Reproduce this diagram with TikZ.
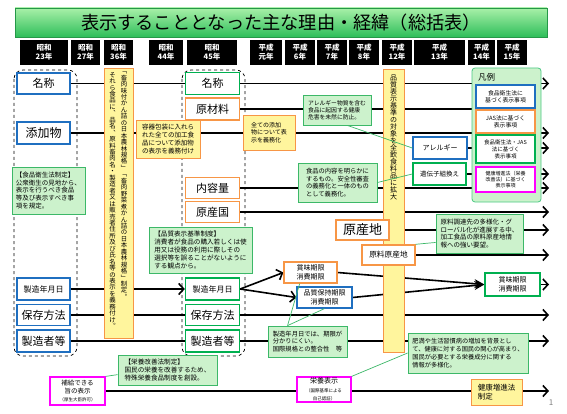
\documentclass[tikz,border=0pt]{standalone}
\usepackage{fontspec}
\setmainfont{Noto Sans CJK JP}
\usepackage{tikz}
\usetikzlibrary{positioning, calc, arrows.meta, backgrounds}

\definecolor{jblue}{HTML}{1F6FC0}
\definecolor{jorange}{HTML}{F79646}
\definecolor{jgreen}{HTML}{00B050}
\definecolor{jmagenta}{HTML}{FF00FF}
\definecolor{notefill}{HTML}{CCF2CC}
\definecolor{notedge}{HTML}{3CB868}
\definecolor{memofill}{HTML}{FFF59D}
\definecolor{titletop}{HTML}{A8F0A8}
\definecolor{titlebot}{HTML}{2EBE5A}
\newcommand\tinyjp{\fontsize{4.5}{5.5}\selectfont}
% stack the characters of #2 in one column, pitch #1
\newcommand\vcol[2]{\vbox{\setlength\baselineskip{#1}\lineskiplimit=-100pt\lineskip=0pt\vstep#2\relax}}
\def\vstep#1{\ifx#1\relax\else\hbox to 1em{\hss#1\hss}\expandafter\vstep\fi}

\begin{document}
\begin{tikzpicture}[x=1pt, y=-1pt, >=Stealth,
    era/.style={fill=black, text=white, align=center, inner sep=0pt, minimum height=25pt,
      font=\bfseries\fontsize{7.5}{9}\selectfont},
    item/.style={draw, line width=1.4pt, fill=white, inner sep=0pt, minimum width=54pt,
      minimum height=21pt, align=center, font=\fontsize{11}{12}\selectfont},
    hygbox/.style={item, draw=jblue},
    jasbox/.style={item, draw=jorange},
    bothbox/.style={item, draw=jgreen},
    healthbox/.style={item, draw=jmagenta},
    note/.style={draw=notedge, fill=notefill, line width=0.8pt, inner sep=1.5pt, align=left,
      font=\fontsize{6.5}{7.8}\selectfont},
    memo/.style={draw=jorange, fill=memofill, line width=0.8pt, inner sep=1.5pt, align=left,
      font=\fontsize{6.5}{7.8}\selectfont},
    column/.style={inner sep=0pt, anchor=north},
    row/.style={line width=1.6pt, -{Straight Barb[length=5pt, width=11pt]}},
    link/.style={draw=notedge, line width=0.7pt},
    group/.style={dashed, line width=0.7pt, rounded corners=9pt}]

    \useasboundingbox (0,0) rectangle (567,414);

    % Title bar
    \node[draw=titlebot!80!black, top color=titletop, bottom color=titlebot, minimum width=532pt,
      minimum height=29pt, font=\fontsize{18.2}{20}\selectfont] (title) at (281,22.5)
      {表示することとなった主な理由・経緯（総括表）};

    % Era headers
    \foreach \n/\x/\w/\t in {s23/44/48pt/{昭和\\23年}, s27/85.5/29pt/{昭和\\27年},
        s36/118.5/29pt/{昭和\\36年}, s44/166/34pt/{昭和\\44年}, s45/212/50pt/{昭和\\45年},
        h1/266/32pt/{平成\\元年}, h6/300/30pt/{平成\\6年}, h7/332/30pt/{平成\\7年},
        h8/364/30pt/{平成\\8年}, h12/397/30pt/{平成\\12年}, h13/439.5/51pt/{平成\\13年},
        h14/481.5/27pt/{平成\\14年}, h15/512/30pt/{平成\\15年}}
      \node[era, minimum width=\w] (\n) at (\x,52.5) {\t};

    % Dashed groups
    \draw[group] (14,70) rectangle (77,356);
    \draw[group] (182,70) rectangle (245,356);

    % Showa 23 items
    \node[hygbox, minimum width=53pt] (name23) at (43.5,83.5) {名称};
    \node[hygbox, minimum width=53pt, minimum height=22pt, font=\fontsize{12}{13}\selectfont] (additive23) at (43.5,133) {添加物};
    \node[hygbox, minimum width=53pt, minimum height=22pt, font=\fontsize{8}{9}\selectfont] (mfgdate23) at (43.5,289) {製造年月日};
    \node[hygbox, minimum width=53pt] (storage23) at (43.5,315) {保存方法};
    \node[hygbox, minimum width=53pt, minimum height=22pt] (maker23) at (43.5,341) {製造者等};

    % Showa 45 items
    \node[bothbox, minimum height=22pt] (name45) at (212.5,83.5) {名称};
    \node[jasbox, minimum height=22pt] (material45) at (212.5,109) {原材料};
    \node[jasbox] (content45) at (212.5,188) {内容量};
    \node[jasbox] (country45) at (212.5,212) {原産国};
    \node[bothbox, minimum height=22pt, font=\fontsize{8}{9}\selectfont] (mfgdate45) at (212.5,289) {製造年月日};
    \node[bothbox] (storage45) at (212.5,315) {保存方法};
    \node[bothbox, minimum height=22pt] (maker45) at (212.5,341) {製造者等};

    % Vertical standards
    \node[memo, minimum width=29pt, minimum height=270pt] (jas36) at (118.5,203) {};
    \node[column, font=\fontsize{6.4}{7}\selectfont] (jas36r) at (124,72)
      {\vcol{6.45pt}{﹁畜肉味付かん詰の日本農林規格﹂﹁畜肉野菜煮かん詰の日本農林規格﹂制定︒}};
    \node[column, font=\fontsize{6.4}{7}\selectfont] (jas36l) at (112.5,72)
      {\vcol{6.45pt}{それら食品に︑品名︑原料畜肉名・製造者又は販売者住所及び氏名等の表示を義務付け︒}};
    \node[memo, minimum width=21pt, minimum height=283pt] (std12) at (393.5,210.5) {};
    \node[column, font=\fontsize{7}{7.5}\selectfont] (std12t) at (393.5,75)
      {\vcol{7pt}{品質表示基準の対象を全飲食料品に拡大}};

    % Notes
    \node[note, minimum width=73pt, minimum height=47pt] (shokuei) at (48.5,190.5)
      {【食品衛生法制定】\\公衆衛生の見地から、\\表示を行うべき食品\\等及び表示すべき事\\項を規定。};
    \node[memo, minimum width=64pt, minimum height=38pt] (youki) at (168,139)
      {容器包装に入れら\\れた全ての加工食\\品について添加物\\の表示を義務付け};
    \node[memo, minimum width=52pt, minimum height=35pt, font=\fontsize{6}{7.5}\selectfont] (tenka) at (269,132.5)
      {全ての添加\\物について表\\示を義務化};
    \node[note, minimum width=103pt, minimum height=46pt, font=\fontsize{6.6}{7.8}\selectfont] (hinshitsu) at (200.5,250)
      {【品質表示基準制度】\\消費者が食品の購入若しくは使\\用又は役務の利用に際しその\\選択等を誤ることがないように\\する観点から。};
    \node[note, minimum width=68pt, minimum height=30pt, font=\fontsize{5.8}{7.2}\selectfont] (allergynote) at (337,110)
      {アレルギー物質を含む\\食品に起因する健康\\危害を未然に防止。};
    \node[note, minimum width=79pt, minimum height=39pt, font=\fontsize{6.3}{7.6}\selectfont] (gmonote) at (337.5,182.5)
      {食品の内容を明らかに\\するもの。安全性審査\\の義務化と一体のもの\\として義務化。};
    \node[note, minimum width=87pt, minimum height=39pt] (chotatsu) at (479.5,233.5)
      {原料調達先の多様化・グ\\ローバル化が進展する中、\\加工食品の原料原産地情\\報への強い要望。};
    \node[note, minimum width=79pt, minimum height=31pt, font=\fontsize{6.3}{7.8}\selectfont] (kigen) at (307.5,341.5)
      {製造年月日では、期限が\\分かりにくい。\\国際規格との整合性　等};
    \node[note, minimum width=120pt, minimum height=40pt, font=\fontsize{6.2}{7.8}\selectfont] (himan) at (468,353)
      {肥満や生活習慣病の増加を背景とし\\て、健康に対する国民の関心が高まり、\\国民が必要とする栄養成分に関する\\情報が多様化。};
    \node[note, minimum width=99pt, minimum height=30pt, font=\fontsize{6.6}{7.8}\selectfont] (kaizen) at (167.5,370)
      {【栄養改善法制定】\\国民の栄養を改善するため、\\特殊栄養食品制度を創設。};

    % Later items
    \node[hygbox, minimum height=22pt, font=\fontsize{7}{8}\selectfont] (allergy) at (440,148) {アレルギー};
    \node[bothbox, minimum width=53pt, minimum height=22pt, font=\fontsize{6.5}{8}\selectfont] (gmo) at (439.5,174) {遺伝子組換え};
    \node[jasbox, minimum width=53pt, minimum height=20pt, font=\fontsize{13}{14}\selectfont] (origin) at (362.5,230) {原産地};
    \node[jasbox, minimum width=53pt, minimum height=20pt, font=\fontsize{7.7}{9}\selectfont] (raworigin) at (388.5,255) {原料原産地};
    \node[jasbox, minimum width=53pt, line width=1.2pt, font=\fontsize{7}{8.5}\selectfont] (bestbefore) at (310.5,272.5) {賞味期限\\消費期限};
    \node[hygbox, minimum width=55pt, line width=1.2pt, font=\fontsize{7}{8.5}\selectfont] (quality) at (324.5,297.5) {品質保持期限\\消費期限};
    \node[bothbox, minimum width=55pt, minimum height=23pt, line width=1.2pt, font=\fontsize{7}{8.5}\selectfont] (bestbeforeR) at (512.5,284.5) {賞味期限\\消費期限};
    \node[healthbox, minimum height=25pt, line width=1.2pt, font=\fontsize{7}{8.5}\selectfont] (eiyo) at (324,389.5)
      {栄養表示\\{\tinyjp （国際基準による}\\{\tinyjp 自己認証）}};
    \node[healthbox, minimum width=55pt, minimum height=28pt, line width=1.2pt, font=\fontsize{6.5}{8}\selectfont] (hokyu) at (77.5,391)
      {補給できる\\旨の表示\\{\tinyjp （厚生大臣許可）}};
    \node[memo, minimum width=51pt, minimum height=26pt, font=\fontsize{7.5}{9}\selectfont] (kenko) at (496.5,392)
      {健康増進法\\制定};

    % Legend
    \node[draw=jgreen!70, fill=notefill, line width=0.8pt, rounded corners=3pt, minimum width=69pt,
      minimum height=134pt] (legend) at (506.5,135) {};
    \node[font=\fontsize{8.5}{9}\selectfont] (legendtitle) at (486.5,77.5) {凡例};
    \node[hygbox, minimum width=59pt, minimum height=23pt, line width=1.2pt, font=\fontsize{5.8}{7.2}\selectfont] (L1) at (505.5,96.5) {食品衛生法に\\基づく表示事項};
    \node[jasbox, minimum width=59pt, minimum height=23pt, line width=1.2pt, font=\fontsize{5.8}{7.2}\selectfont] (L2) at (505.5,121.5) {JAS法に基づく\\表示事項};
    \node[bothbox, minimum width=59pt, minimum height=28pt, line width=1.2pt, font=\fontsize{5.5}{7}\selectfont] (L3) at (505.5,149) {食品衛生法・JAS\\法に基づく\\表示事項};
    \node[healthbox, minimum width=59pt, minimum height=25pt, line width=1.2pt, font=\fontsize{5}{6.3}\selectfont] (L4) at (505.5,179.5) {健康増進法（栄養\\改善法）に基づく\\表示事項};

    % Page number
    \node[text=gray, font=\fontsize{8}{9}\selectfont] (pageno) at (551,403) {1};

    % Connectors from notes
    \draw[link] ($(allergynote.south)!0.3!(allergynote.south east)$) -- (allergy.west);
    \draw[link] (gmonote.east) -- (gmo.west);
    \draw[link] ($(chotatsu.west)!0.45!(chotatsu.south west)$) -- (raworigin.north east);
    \draw[link] ($(kigen.north west)!0.25!(kigen.north east)$) -- ($(bestbefore.south west)!0.3!(bestbefore.south east)$);
    \draw[link] ($(kigen.north west)!0.25!(kigen.north east)$) -- (quality.south);
    \draw[link] (himan.west) -- (eiyo.north east);
    \draw[link] ($(kaizen.west)!0.3!(kaizen.south west)$) -- (hokyu.north east);

    % Time lines behind everything
    \coordinate (tip) at (549,0);
    \begin{scope}[on background layer]
      \fill[white] (0,0) rectangle (567,414);
      \foreach \a in {name23, additive23, allergy, gmo, content45, country45, origin, raworigin,
          bestbeforeR, storage23, maker23, hokyu}
        \draw[row] (\a.east) -- (\a.east -| tip);
      \draw[line width=1.6pt] (material45.east) -- (material45.east -| legend.west);
      \draw[row] (mfgdate23.east) -- (mfgdate45.west);
      \draw[row] (mfgdate45.east) -- (bestbefore.west);
      \draw[row] (mfgdate45.east) -- (quality.west);
      \draw[line width=1.6pt, -{Stealth[length=10pt, width=9pt]}] (bestbefore.east) -- (bestbeforeR.west);
      \draw[line width=1.6pt, -{Stealth[length=10pt, width=9pt]}] (quality.east) -- (bestbeforeR.west);
    \end{scope}
\end{tikzpicture}
\end{document}
